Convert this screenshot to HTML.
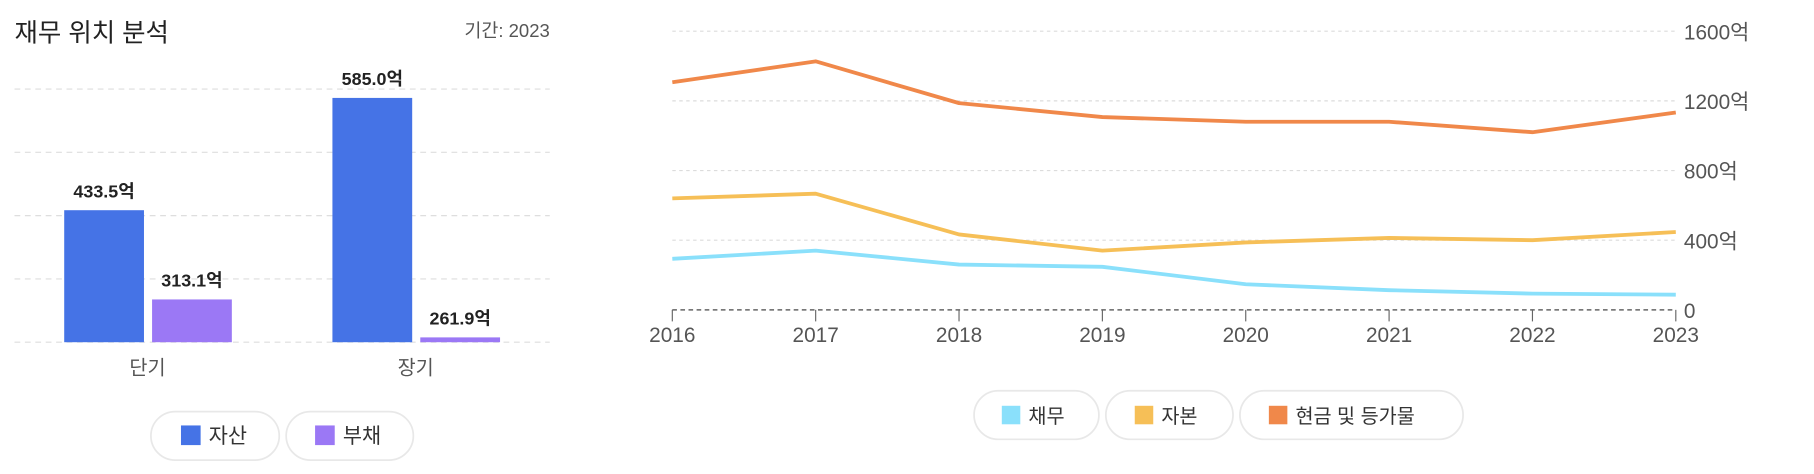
<!DOCTYPE html>
<html><head><meta charset="utf-8">
<style>
html,body{margin:0;padding:0;background:#fff;}
svg{display:block;font-family:"Liberation Sans","Noto Sans CJK KR",sans-serif;}
</style></head>
<body>
<svg id="root" width="1814" height="474" viewBox="0 0 1568 410">
<g id="left">
<text x="12" y="36" font-size="22" fill="#222">재무 위치 분석</text>
<text x="475" y="32" font-size="16" fill="#555" text-anchor="end">기간: 2023</text>
<g id="lgrid"></g><g id="lbars"></g>
<g>
<rect x="130" y="356" width="111" height="42" rx="21" fill="#fff" stroke="#e8e8e8" stroke-width="1.5"/>
<rect x="156" y="368" width="17" height="17" fill="#4573e6"/>
<text x="180" y="383" font-size="18" fill="#333">자산</text>
<rect x="247" y="356" width="110" height="42" rx="21" fill="#fff" stroke="#e8e8e8" stroke-width="1.5"/>
<rect x="272" y="368" width="17" height="17" fill="#9b78f5"/>
<text x="296" y="383" font-size="18" fill="#333">부채</text>
</g>
</g>
<g id="right">
<g id="rgrid"></g><g id="rlines"></g>
<g>
<rect x="842" y="338" width="108" height="42" rx="21" fill="#fff" stroke="#e8e8e8" stroke-width="1.5"/>
<rect x="866" y="351" width="16" height="16" fill="#8ae0fb"/>
<text x="889" y="366" font-size="17" fill="#333">채무</text>
<rect x="956" y="338" width="110" height="42" rx="21" fill="#fff" stroke="#e8e8e8" stroke-width="1.5"/>
<rect x="981" y="351" width="16" height="16" fill="#f6bf57"/>
<text x="1004" y="366" font-size="17" fill="#333">자본</text>
<rect x="1072" y="338" width="193" height="42" rx="21" fill="#fff" stroke="#e8e8e8" stroke-width="1.5"/>
<rect x="1097" y="351" width="16" height="16" fill="#f0884a"/>
<text x="1120" y="366" font-size="17" fill="#333">현금 및 등가물</text>
</g>
</g>
</svg>
<script>
const barCategories = ["단기", "장기"];
const assetValues = [433.5, 585.0];
const liabilityValues = [313.1, 261.9];

const years = ["2016","2017","2018","2019","2020","2021","2022","2023"];
const debtValues = [293, 340, 260, 247, 147, 113, 93, 87];
const equityValues = [640, 667, 433, 340, 387, 413, 400, 447];
const cashValues = [1307, 1427, 1187, 1107, 1080, 1080, 1020, 1133];
const yTicks = [0, 400, 800, 1600, 1200];
const yTickLabels = ["0", "400억", "800억", "1600억", "1200억"];

const NS = "http://www.w3.org/2000/svg";
function mk(tag, attrs, parent, text) {
  const e = document.createElementNS(NS, tag);
  for (const k in attrs) e.setAttribute(k, attrs[k]);
  if (text !== undefined) e.textContent = text;
  parent.appendChild(e);
  return e;
}
const bMin = 255.4, bMax = 597, bY0 = 296, bY1 = 77;
const by = v => bY0 - (v - bMin) / (bMax - bMin) * (bY0 - bY1);
const lgrid = document.getElementById('lgrid');
for (let i = 0; i <= 4; i++) {
  const y = bY0 - i * (bY0 - bY1) / 4;
  const l = mk('line', {x1: 12, x2: 475, y1: y, y2: y, stroke: '#dedede', 'stroke-width': 1, 'stroke-dasharray': '5 4'}, lgrid);
  
  
}
const lbars = document.getElementById('lbars');
const groupX = [55, 287];
barCategories.forEach((c, i) => {
  const series = [[assetValues[i], '#4573e6', 'asset'], [liabilityValues[i], '#9b78f5', 'liability']];
  series.forEach((s, j) => {
    const x = groupX[i] + j * 76;
    const y = by(s[0]);
    const r = mk('rect', {x: x, y: y, width: 69, height: Math.max(0, bY0 - y), fill: s[1]}, lbars);
    
    
    const t = mk('text', {x: x + 34.5, y: y - 11, 'font-size': 15.5, 'font-weight': 'bold', fill: '#222', 'text-anchor': 'middle'}, lbars, s[0].toFixed(1) + '억');
    
    
  });
  const ct = mk('text', {x: groupX[i] + 72, y: 324, 'font-size': 17, fill: '#555', 'text-anchor': 'middle'}, lbars, c);
  
  
});
const xL = 581, xR = 1449, yB = 268, yT = 27;
const lx = i => xL + i * (xR - xL) / (years.length - 1);
const ly = v => yB - v / 1600 * (yB - yT);
const rgrid = document.getElementById('rgrid');
yTicks.forEach((v, i) => {
  const y = ly(v);
  if (v !== 0) {
    const g = mk('line', {x1: xL, x2: xR, y1: y, y2: y, stroke: '#dcdcdc', 'stroke-width': 1, 'stroke-dasharray': '3 3'}, rgrid);
    
    
  }
  const t = mk('text', {x: 1456, y: y + 7, 'font-size': 18, fill: '#555'}, rgrid, yTickLabels[i]);
  
  
});
const ax = mk('line', {x1: xL, x2: xR, y1: yB, y2: yB, stroke: '#666', 'stroke-width': 1.3, 'stroke-dasharray': '4 3'}, rgrid);


years.forEach((yr, i) => {
  const tk = mk('line', {x1: lx(i), x2: lx(i), y1: yB, y2: yB + 10, stroke: '#666', 'stroke-width': 1}, rgrid);
  
  
  const t = mk('text', {x: lx(i), y: 296, 'font-size': 18, fill: '#555', 'text-anchor': 'middle'}, rgrid, yr);
  
  
});
const rlines = document.getElementById('rlines');
[[debtValues, '#8ae0fb', 'debt'], [equityValues, '#f6bf57', 'equity'], [cashValues, '#f0884a', 'cash']].forEach(s => {
  const pts = s[0].map((v, i) => lx(i) + ',' + ly(v)).join(' ');
  const p = mk('polyline', {points: pts, fill: 'none', stroke: s[1], 'stroke-width': 3.3, 'stroke-linejoin': 'round'}, rlines);
  
  
});
</script>
</body></html>
